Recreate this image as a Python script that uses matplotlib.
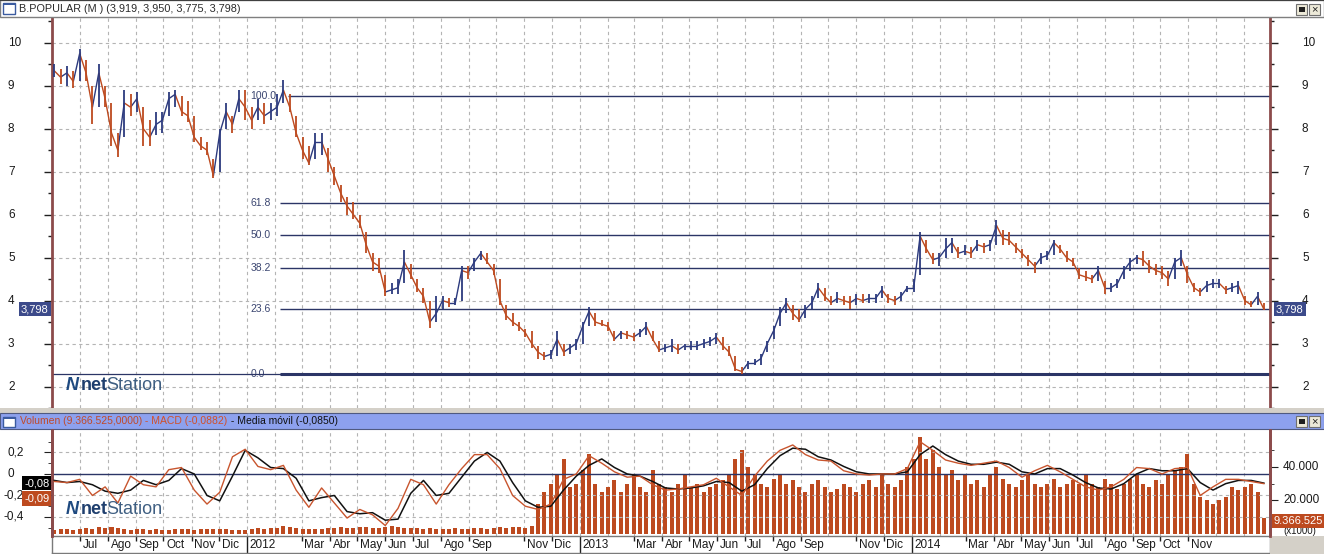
import numpy as np
import pandas as pd
import matplotlib
matplotlib.use('Agg')
import matplotlib.pyplot as plt
import matplotlib.dates as mdates
import matplotlib.transforms as mtrans
from matplotlib.collections import LineCollection
from matplotlib.patches import Rectangle

plt.rcParams['font.family'] = ['Liberation Sans', 'DejaVu Sans']

# ---------------- data ----------------
title = "B.POPULAR (M ) (3,919, 3,950, 3,775, 3,798)"
price_start = '2011-06-03'          # weekly samples
close = [9.35, 9.2, 9.3, 9.1, 9.75, 9.3, 8.5, 9.3, 8.7, 7.9,
         7.5, 8.6, 8.5, 8.7, 8.0, 7.8, 8.1, 8.2, 8.7, 8.8,
         8.4, 8.3, 7.8, 7.6, 7.5, 6.9, 7.9, 8.4, 8.1, 8.7,
         8.5, 8.2, 8.5, 8.3, 8.4, 8.5, 8.9, 8.5, 7.9, 7.5,
         7.2, 7.7, 7.7, 7.3, 6.9, 6.5, 6.2, 6.0, 5.8, 5.3,
         4.9, 4.8, 4.2, 4.25, 4.3, 4.9, 4.6, 4.3, 4.1, 3.5,
         3.7, 4.0, 3.95, 3.95, 4.7, 4.65, 4.9, 5.1, 4.9, 4.7,
         4.0, 3.65, 3.5, 3.4, 3.25, 3.0, 2.8, 2.7, 2.75, 3.1,
         2.8, 2.9, 3.0, 3.4, 3.75, 3.5, 3.45, 3.4, 3.1, 3.25,
         3.2, 3.15, 3.25, 3.4, 3.1, 2.85, 2.9, 2.95, 2.85, 2.95,
         2.95, 2.95, 3.0, 3.05, 3.15, 2.95, 2.8, 2.4, 2.35, 2.55,
         2.55, 2.65, 3.0, 3.3, 3.7, 3.95, 3.7, 3.55, 3.8, 3.95,
         4.3, 4.1, 3.95, 4.05, 4.0, 3.95, 4.05, 4.0, 4.05, 4.05,
         4.25, 4.05, 4.0, 4.1, 4.3, 4.3, 5.5, 5.2, 4.95, 5.0,
         5.2, 5.35, 5.1, 5.15, 5.1, 5.3, 5.25, 5.3, 5.75, 5.45,
         5.4, 5.25, 5.1, 4.95, 4.8, 5.0, 5.05, 5.35, 5.2, 5.0,
         4.9, 4.6, 4.55, 4.5, 4.7, 4.3, 4.3, 4.4, 4.7, 4.9,
         5.0, 4.95, 4.8, 4.7, 4.65, 4.5, 4.9, 5.0, 4.6, 4.3,
         4.2, 4.35, 4.4, 4.4, 4.25, 4.3, 4.35, 4.0, 3.9, 4.1,
         3.8]
low = [9.2, 9.05, 9.0, 8.95, 9.1, 9.1, 8.1, 8.5, 8.5, 7.6,
       7.35, 7.8, 8.3, 8.4, 7.6, 7.6, 7.85, 7.9, 8.3, 8.5,
       8.3, 8.15, 7.7, 7.5, 7.4, 6.85, 7.0, 8.0, 7.9, 8.4,
       8.2, 8.0, 8.2, 8.1, 8.2, 8.3, 8.6, 8.4, 7.8, 7.3,
       7.15, 7.3, 7.4, 7.0, 6.7, 6.3, 6.0, 5.9, 5.7, 5.1,
       4.7, 4.65, 4.1, 4.15, 4.15, 4.4, 4.5, 4.2, 3.95, 3.37,
       3.5, 3.8, 3.85, 3.9, 4.0, 4.5, 4.7, 4.95, 4.85, 4.6,
       3.9, 3.55, 3.4, 3.3, 3.15, 2.9, 2.65, 2.62, 2.65, 2.7,
       2.7, 2.75, 2.85, 3.0, 3.4, 3.4, 3.4, 3.3, 3.05, 3.1,
       3.1, 3.05, 3.15, 3.2, 3.05, 2.8, 2.8, 2.8, 2.75, 2.85,
       2.85, 2.85, 2.9, 2.95, 3.0, 2.85, 2.7, 2.35, 2.29, 2.4,
       2.5, 2.5, 2.8, 3.1, 3.4, 3.7, 3.55, 3.5, 3.6, 3.8,
       4.05, 4.0, 3.9, 3.95, 3.9, 3.8, 3.9, 3.95, 3.95, 3.95,
       4.05, 3.95, 3.9, 4.0, 4.2, 4.2, 4.6, 5.1, 4.85, 4.8,
       5.0, 5.1, 5.0, 5.05, 5.0, 5.15, 5.1, 5.15, 5.3, 5.3,
       5.3, 5.1, 5.0, 4.8, 4.65, 4.85, 4.95, 5.05, 5.1, 4.9,
       4.8, 4.5, 4.45, 4.4, 4.45, 4.15, 4.2, 4.3, 4.5, 4.7,
       4.85, 4.8, 4.65, 4.6, 4.5, 4.35, 4.5, 4.8, 4.4, 4.2,
       4.1, 4.2, 4.3, 4.3, 4.15, 4.2, 4.15, 3.9, 3.85, 3.9,
       3.77]
high = [9.5, 9.4, 9.45, 9.35, 9.85, 9.6, 9.0, 9.5, 9.0, 8.6,
        7.9, 8.9, 8.8, 8.85, 8.5, 8.2, 8.4, 8.4, 8.85, 8.9,
        8.75, 8.65, 8.3, 7.8, 7.7, 7.3, 8.0, 8.6, 8.3, 8.9,
        8.9, 8.5, 8.7, 8.6, 8.6, 8.8, 9.13, 8.8, 8.3, 7.8,
        7.6, 7.9, 7.9, 7.55, 7.1, 6.7, 6.4, 6.3, 6.0, 5.6,
        5.1, 5.0, 4.6, 4.4, 4.5, 5.18, 4.85, 4.5, 4.3, 4.0,
        4.1, 4.1, 4.05, 4.05, 4.8, 4.8, 5.0, 5.15, 5.1, 4.85,
        4.5, 3.9, 3.7, 3.5, 3.35, 3.3, 2.95, 2.8, 2.85, 3.3,
        3.0, 3.0, 3.1, 3.5, 3.85, 3.7, 3.55, 3.5, 3.3, 3.3,
        3.3, 3.25, 3.35, 3.5, 3.3, 3.05, 3.0, 3.1, 3.0, 3.0,
        3.05, 3.05, 3.1, 3.15, 3.25, 3.15, 2.95, 2.7, 2.45, 2.6,
        2.65, 2.75, 3.05, 3.4, 3.85, 4.05, 3.9, 3.8, 3.9, 4.1,
        4.4, 4.3, 4.1, 4.2, 4.1, 4.1, 4.15, 4.15, 4.15, 4.15,
        4.35, 4.15, 4.1, 4.2, 4.35, 4.5, 5.6, 5.4, 5.1, 5.1,
        5.45, 5.45, 5.25, 5.3, 5.25, 5.4, 5.35, 5.4, 5.87, 5.65,
        5.6, 5.35, 5.2, 5.05, 4.9, 5.1, 5.15, 5.42, 5.3, 5.15,
        5.0, 4.75, 4.7, 4.6, 4.8, 4.45, 4.4, 4.5, 4.8, 5.0,
        5.05, 5.15, 4.95, 4.85, 4.8, 4.7, 5.0, 5.18, 4.8, 4.4,
        4.3, 4.45, 4.5, 4.5, 4.35, 4.4, 4.45, 4.1, 4.0, 4.2,
        3.95]
last_price = 3.798

# weekly volume, millions of shares
volume = [2.5, 3, 3, 2.5, 3, 3.5, 3, 4, 3.5, 4,
          3.5, 3, 2.5, 3, 3, 2.5, 3, 2.5, 2.5, 3,
          3, 3, 2.5, 3, 3, 3, 3, 3, 2.5, 2.5,
          2.5, 3, 3.5, 3, 3.5, 3.5, 4.5, 4, 3.5, 3,
          3, 3, 3, 3.5, 3.5, 4, 3.5, 3.5, 4, 4,
          3.5, 3.5, 4, 4.5, 4, 3.5, 3.5, 3.5, 3, 3.5,
          3, 3, 3, 3.5, 3, 3, 3.5, 3.5, 3, 3.5,
          4, 3.5, 4, 4, 3.5, 5,
          18, 25, 30, 35, 45, 28, 30, 38, 48, 30,
          25, 28, 32, 25, 30, 35, 28, 25, 38, 30,
          28, 25, 30, 35, 28, 30, 25, 28, 30, 32,
          35, 45, 50, 40, 35, 30, 28, 33, 35, 30,
          32, 28, 25, 30, 32, 28, 25, 27, 30, 28,
          25, 30, 32, 28, 35, 30, 28, 32, 40, 45,
          58, 45, 50, 40, 35, 38, 32, 35, 30, 32,
          28, 35, 40, 33, 30, 28, 32, 35, 30, 28,
          30, 33, 28, 30, 32, 30, 35, 30, 28, 33,
          30, 27, 30, 33, 35, 30, 28, 32, 30, 35,
          38, 40, 48, 30, 22, 20, 18, 20, 22, 28,
          26, 28, 30, 25, 9.37]
last_volume = 9.366525

macd_start = '2011-06-03'           # two-weekly samples
macd = [-0.07, -0.08, -0.05, -0.2, -0.12, -0.27, -0.02, -0.1, -0.12, 0.04,
        0.06, -0.15, -0.28, -0.17, 0.16, 0.23, 0.07, 0.04, 0.08, -0.15,
        -0.31, -0.13, -0.27, -0.41, -0.33, -0.38, -0.48, -0.32, -0.05, -0.1,
        -0.28, -0.1, 0.05, 0.18, 0.18, 0.05, -0.2, -0.3, -0.33, -0.28,
        -0.05, 0.0, 0.17, 0.1, 0.02, -0.03, -0.02, -0.1, -0.15, -0.14,
        -0.12, -0.1, -0.04, -0.12, -0.2, -0.02, 0.12, 0.22, 0.27, 0.18,
        0.13, 0.12, 0.03, 0.0, -0.01, 0.0, 0.0, 0.05, 0.3, 0.22,
        0.13, 0.1, 0.08, 0.1, 0.12, 0.06, -0.03, 0.03, 0.08, 0.02,
        -0.05, -0.12, -0.15, -0.12, -0.05, 0.06, 0.05, 0.0, 0.05, 0.06,
        -0.2, -0.12, -0.05, -0.05, -0.07, -0.09]
signal = [-0.06, -0.08, -0.07, -0.1, -0.16, -0.18, -0.15, -0.06, -0.1, -0.06,
          0.05, 0.0, -0.2, -0.25, -0.02, 0.22, 0.15, 0.06, 0.05, -0.04,
          -0.25, -0.22, -0.2, -0.35, -0.37, -0.36, -0.43, -0.42, -0.18, -0.06,
          -0.2, -0.18, -0.03, 0.12, 0.2, 0.12, -0.08, -0.25, -0.31, -0.3,
          -0.15, -0.02, 0.08, 0.14, 0.06, 0.0, -0.02, -0.07, -0.13, -0.14,
          -0.13, -0.11, -0.07, -0.08, -0.16, -0.1, 0.05, 0.17, 0.24, 0.23,
          0.16, 0.13, 0.07, 0.02, 0.0, 0.0, 0.0, 0.02, 0.18, 0.26,
          0.18, 0.12, 0.09, 0.09, 0.11, 0.09, 0.02, 0.0, 0.05, 0.05,
          -0.01, -0.08, -0.13, -0.14, -0.09, 0.0, 0.05, 0.03, 0.03, 0.05,
          -0.08, -0.15, -0.09, -0.06, -0.06, -0.085]
macd_box, signal_box = '-0,09', '-0,08'

fib_low, fib_high = 2.29, 8.75
fib_ratios = [0.0, 23.6, 38.2, 50.0, 61.8, 100.0]

month_labels = ['Jul', 'Ago', 'Sep', 'Oct', 'Nov', 'Dic',
                '2012', '', 'Mar', 'Abr', 'May', 'Jun', 'Jul', 'Ago', 'Sep', '', 'Nov', 'Dic',
                '2013', '', 'Mar', 'Abr', 'May', 'Jun', 'Jul', 'Ago', 'Sep', '', 'Nov', 'Dic',
                '2014', '', 'Mar', 'Abr', 'May', 'Jun', 'Jul', 'Ago', 'Sep', 'Oct', 'Nov', '']

# ---------------- figure ----------------
W, H = 1324, 554
fig = plt.figure(figsize=(W / 100, H / 100), dpi=100)
fig.patch.set_facecolor('white')

def fx(px):
    return px / W

def fy(py):
    return 1 - py / H

def frect(x0, y0, x1, y1, fc, ec='none', lw=0.0, z=0):
    r = Rectangle((fx(x0), fy(y1)), fx(x1) - fx(x0), fy(y0) - fy(y1),
                  transform=fig.transFigure, facecolor=fc, edgecolor=ec,
                  linewidth=lw, zorder=z)
    fig.patches.append(r)
    return r

RED = '#bd4a1f'
BLUE = '#2c3a7e'
NAVY = '#2b3566'
BROWN = '#8c4b4b'
GRID = '#b4b4b4'
CHROME = '#d4d0c8'

# window chrome
frect(0, 0, W, 17, 'white', ec='#7f7f7f', lw=1)
frect(0, 0, W, 1.2, '#404040')
frect(0, 408, W, 413, CHROME)
frect(0, 413, W, 429, '#8da1ee', ec='#505a80', lw=0.8)
frect(1270, 536, W, H, CHROME)
for (y0, y1) in [(3, 14), (417, 427)]:
    frect(3, y0, 15, y1, 'white', ec='#3b5ba0', lw=1.0, z=3)
    frect(3, y0, 15, y0 + 2, '#3b5ba0', z=3)
for (y0, y1) in [(4, 15), (416, 427)]:
    frect(1296, y0, 1307, y1, '#ece9d8', ec='#707070', lw=0.8, z=3)
    frect(1298.5, y0 + 3, 1304.5, y1 - 3, '#202020', z=4)
    frect(1309, y0, 1320, y1, '#ece9d8', ec='#707070', lw=0.8, z=3)
    fig.text(fx(1314.5), fy((y0 + y1) / 2), '×', ha='center', va='center',
             fontsize=8, color='#202020', zorder=5)

fig.text(fx(19), fy(8.5), title, ha='left', va='center', fontsize=7.8,
         color='#2a2a2a')

xmin = mdates.date2num(pd.Timestamp('2011-05-31 14:00'))
xmax = mdates.date2num(pd.Timestamp('2015-01-29 17:00'))
months = pd.date_range('2011-06-01', '2015-01-01', freq='MS')
mnum = mdates.date2num(months)

# ---------------- main price panel ----------------
ax = fig.add_axes([fx(52), fy(408), fx(1270) - fx(52), fy(18) - fy(408)])
ax.set_xlim(xmin, xmax)
ax.set_ylim(1.57, 10.577)
ax.set_facecolor('white')
for m in mnum:
    ax.axvline(m, color=GRID, lw=0.8, ls=(0, (3, 3)), zorder=1)
for v in range(2, 11):
    ax.axhline(v, color=GRID, lw=0.8, ls=(0, (3, 3)), zorder=1)

fib_lines_start = mdates.date2num(pd.Timestamp('2012-02-06'))
for r in fib_ratios:
    lvl = fib_low + r / 100 * (fib_high - fib_low)
    start = fib_lines_start if r < 100 else mdates.date2num(pd.Timestamp('2012-02-15'))
    ax.hlines(lvl, start, xmax, color=NAVY, lw=2.2 if r == 0 else 1.0, zorder=2)
    ax.text(mdates.date2num(pd.Timestamp('2012-01-05')), lvl, f'{r:.1f}',
            ha='left', va='center', fontsize=7.5, color='#3a4570', zorder=2)
ax.hlines(fib_low, xmin, xmax, color=NAVY, lw=0.9, zorder=2)

px_dates = mdates.date2num(pd.date_range(price_start, periods=len(close), freq='7D'))
cols = [BLUE] + [BLUE if b >= a else RED for a, b in zip(close[:-1], close[1:])]
pts = np.column_stack([px_dates, close])
segs = np.stack([pts[:-1], pts[1:]], axis=1)
ax.add_collection(LineCollection(segs, colors=cols[1:], linewidths=1.0, zorder=3))
bars = [[(d, lo), (d, hi)] for d, lo, hi in zip(px_dates, low, high)]
ax.add_collection(LineCollection(bars, colors=cols, linewidths=1.3, zorder=3))

for s in ['top', 'bottom']:
    ax.spines[s].set_visible(False)
for s in ['left', 'right']:
    ax.spines[s].set_color(BROWN)
    ax.spines[s].set_linewidth(2)
ax.set_xticks([])
ax.set_yticks(range(2, 11))
ax.set_yticks(np.arange(1.5, 10.6, 1.0), minor=True)
ax.tick_params(axis='y', which='major', direction='out', length=6, width=1,
               color='#202020', left=True, right=True, labelleft=False, labelright=False)
ax.tick_params(axis='y', which='minor', direction='out', length=3, width=1,
               color='#202020', left=True, right=True)
bt = mtrans.blended_transform_factory(fig.transFigure, ax.transData)
for v in range(2, 11):
    fig.text(fx(8), v, str(v), transform=bt, ha='left', va='center', fontsize=8.5,
             color='#1a1a1a')
    fig.text(fx(1302), v, str(v), transform=bt, ha='left', va='center', fontsize=8.5,
             color='#1a1a1a')
pl = f'{last_price:.3f}'.replace('.', ',')
for xl in (fx(21), fx(1276)):
    fig.text(xl, last_price, pl, transform=bt, ha='left', va='center', fontsize=8,
             color='white', zorder=6,
             bbox=dict(facecolor='#3c4a8a', edgecolor='none', pad=1.6))

def logo(y_center):
    fig.text(fx(66), fy(y_center), 'N', ha='left', va='center', fontsize=13,
             fontweight='bold', fontstyle='italic', color='#1f4a80', zorder=6)
    fig.text(fx(81), fy(y_center), 'net', ha='left', va='center', fontsize=13,
             fontweight='bold', color='#1f3f6e', zorder=6)
    fig.text(fx(106), fy(y_center), 'Station', ha='left', va='center', fontsize=13,
             color='#3f5f82', zorder=6)

logo(385)

# ---------------- lower panel: volume + MACD ----------------
ax2 = fig.add_axes([fx(52), fy(536), fx(1270) - fx(52), fy(430) - fy(536)])
ax3 = ax2.twinx()
ax2.set_zorder(ax3.get_zorder() + 1)
ax2.patch.set_visible(False)
ax3.set_facecolor('white')
ax2.set_xlim(xmin, xmax)
ax2.set_ylim(-0.577, 0.409)
ax3.set_ylim(-1.2, 62.1)

for m in mnum:
    ax3.axvline(m, color=GRID, lw=0.8, ls=(0, (3, 3)), zorder=1)
for v in (0.2, -0.2, -0.4):
    ax2.axhline(v, color=GRID, lw=0.8, ls=(0, (3, 3)), zorder=1)

ax3.bar(px_dates, volume, width=4.4, color=RED, edgecolor='none', zorder=2)

md = mdates.date2num(pd.date_range(macd_start, periods=len(macd), freq='14D'))
ax2.axhline(0, color=NAVY, lw=1.0, zorder=2)
ax2.plot(md, signal, color='#111111', lw=1.1, zorder=3)
ax2.plot(md, macd, color='#c8552e', lw=1.0, zorder=4)

for a in (ax2, ax3):
    for s in ['top', 'bottom']:
        a.spines[s].set_visible(False)
    for s in ['left', 'right']:
        a.spines[s].set_color(BROWN)
        a.spines[s].set_linewidth(2)
    a.set_xticks([])
ax2.set_yticks([0.2, 0.0, -0.2, -0.4])
ax2.set_yticks([0.3, 0.1, -0.1, -0.3, -0.5], minor=True)
ax2.tick_params(axis='y', which='major', direction='out', length=6, color='#202020',
                labelleft=False)
ax2.tick_params(axis='y', which='minor', direction='out', length=3, color='#202020')
ax3.set_yticks([20, 40])
ax3.set_yticks([10, 30, 50], minor=True)
ax3.tick_params(axis='y', which='major', direction='out', length=6, color='#202020',
                labelright=False)
ax3.tick_params(axis='y', which='minor', direction='out', length=3, color='#202020')

bt2 = mtrans.blended_transform_factory(fig.transFigure, ax2.transData)
for v, s, xx in [(0.2, '0,2', 8), (0.0, '0', 8), (-0.2, '-0,2', 3), (-0.4, '-0,4', 3)]:
    fig.text(fx(xx), v, s, transform=bt2, ha='left', va='center', fontsize=8.5,
             color='#1a1a1a')
bt3 = mtrans.blended_transform_factory(fig.transFigure, ax3.transData)
for v in (20, 40):
    fig.text(fx(1283), v, f'{v}.000', transform=bt3, ha='left', va='center',
             fontsize=8.5, color='#1a1a1a')
fig.text(fx(1283), fy(531), '(x1000)', ha='left', va='center', fontsize=7,
         color='#1a1a1a')
vl = f'{last_volume * 1e6:,.0f}'.replace(',', '.')
fig.text(fx(1274), fy(521), vl, ha='left', va='center', fontsize=8, color='white',
         zorder=7, bbox=dict(facecolor=RED, edgecolor='none', pad=1.5))
fig.text(fx(24), fy(483), signal_box, ha='left', va='center',
         fontsize=8, color='white', zorder=7,
         bbox=dict(facecolor='black', edgecolor='none', pad=1.5))
fig.text(fx(24), fy(498.5), macd_box, ha='left', va='center',
         fontsize=8, color='white', zorder=7,
         bbox=dict(facecolor=RED, edgecolor='none', pad=1.5))
logo(509)

pieces = [('Volumen (9.366.525,0000)', '#c04a2a'), (' - MACD (-0,0882)', '#d0502a'),
          (' - Media móvil (-0,0850)', '#101010')]
fig.canvas.draw()
rnd = fig.canvas.get_renderer()
xcur = fx(20)
for s, c in pieces:
    t = fig.text(xcur, fy(421), s, ha='left', va='center', fontsize=7.5, color=c, zorder=5)
    xcur += t.get_window_extent(rnd).width / W

# ---------------- month label strip ----------------
axs = fig.add_axes([fx(52), fy(553), fx(1270) - fx(52), fy(536) - fy(553)])
axs.set_xlim(xmin, xmax)
axs.set_ylim(0, 1)
axs.set_xticks([])
axs.set_yticks([])
for s in axs.spines.values():
    s.set_color('#7a7a7a')
    s.set_linewidth(1)
for m, lab in zip(mnum[1:], month_labels):
    if not lab:
        continue
    if lab.isdigit():
        axs.vlines(m, 0, 1, color='#202020', lw=1)
    else:
        axs.vlines(m, 0.7, 1, color='#202020', lw=1)
    axs.text(m + 3, 0.45, lab, ha='left', va='center', fontsize=8.5, color='#1a1a1a')

fig.savefig('out.png', dpi=100, facecolor=fig.get_facecolor())
